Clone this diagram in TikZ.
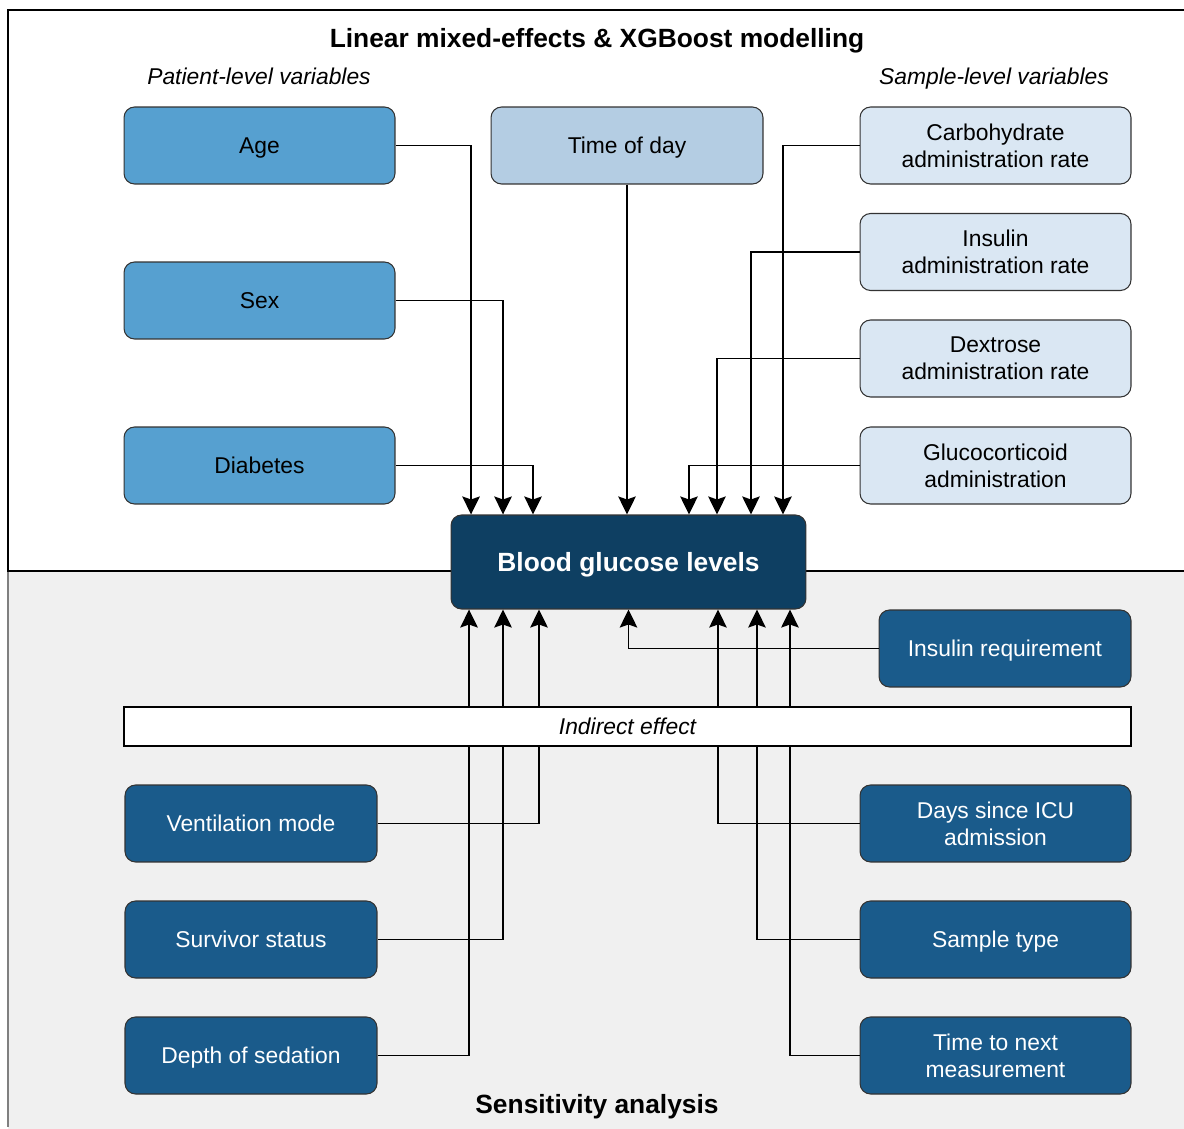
\documentclass[tikz,border=0pt]{standalone}
\usepackage{fontspec}
\setmainfont{Liberation Sans}
\usetikzlibrary{arrows.meta}
\definecolor{patblue}{HTML}{56A0D0}
\definecolor{timeblue}{HTML}{B4CDE3}
\definecolor{sampblue}{HTML}{DAE7F3}
\definecolor{bgldark}{HTML}{0E3F62}
\definecolor{sensblue}{HTML}{1A5B8B}
\definecolor{panelgray}{HTML}{F0F0F0}
\begin{document}
\begin{tikzpicture}[x=0.02cm,y=-0.02cm]
        \tikzset{box/.style={draw=black!80,line width=0.6pt,rounded corners=6pt,align=center,minimum width=5.42cm,minimum height=1.54cm,font=\fontsize{13}{15.5}\selectfont}};
        \tikzset{patbox/.style={box,fill=patblue},sampbox/.style={box,fill=sampblue},sensbox/.style={box,fill=sensblue,text=white}};
        \tikzset{arr/.style={line width=1.1pt,-{Stealth[length=3.6mm,width=3.5mm,inset=0.6mm]}}};
        \useasboundingbox (0,0) rectangle (1184,1129);
        % panels
        \fill[panelgray] (8,571) rectangle (1190,1129);
        \draw[black!50,line width=1pt] (8,571) -- (8,1127);
        \draw[line width=1.1pt] (1190,10) -- (8,10) -- (8,571) -- (1190,571);
        \node[font=\fontsize{15}{18}\selectfont\bfseries] (top) at (597,41) {Linear mixed-effects \& XGBoost modelling};
        \node[font=\fontsize{13}{15.5}\selectfont\itshape] (patlev) at (259,76) {Patient-level variables};
        \node[font=\fontsize{13}{15.5}\selectfont\itshape] (samplev) at (994,79) {Sample-level variables};
        \node[font=\fontsize{15}{18}\selectfont\bfseries] (bottom) at (597,1107) {Sensitivity analysis};
        % nodes
        \node[patbox,text depth=0pt] (age) at (259.5,145.5) {Age};
        \node[patbox] (sex) at (259.5,300.5) {Sex};
        \node[patbox] (diab) at (259.5,465.5) {Diabetes};
        \node[box,fill=timeblue,minimum width=5.44cm,text depth=0pt] (tod) at (627,145.5) {Time of day};
        \node[sampbox] (carb) at (995.5,145.5) {Carbohydrate\\administration rate};
        \node[sampbox] (insadm) at (995.5,252) {Insulin\\administration rate};
        \node[sampbox] (dex) at (995.5,358.5) {Dextrose\\administration rate};
        \node[sampbox] (gluco) at (995.5,465.5) {Glucocorticoid\\administration};
        \node[box,fill=bgldark,text=white,minimum width=7.1cm,minimum height=1.88cm,text depth=0pt,font=\fontsize{15}{18}\selectfont\bfseries] (bgl) at (628.5,562) {Blood glucose levels};
        \node[sensbox,minimum width=5.04cm,text depth=0pt] (insreq) at (1005,648.5) {Insulin requirement};
        \node[sensbox,minimum width=5.04cm] (vent) at (251,823.5) {Ventilation mode};
        \node[sensbox,minimum width=5.04cm] (surv) at (251,939.5) {Survivor status};
        \node[sensbox,minimum width=5.04cm,text depth=0pt] (depth) at (251,1055.5) {Depth of sedation};
        \node[sensbox] (days) at (995.5,823.5) {Days since ICU\\admission};
        \node[sensbox,text depth=0pt] (stype) at (995.5,939.5) {Sample type};
        \node[sensbox] (tnext) at (995.5,1055.5) {Time to next\\measurement};
        % modelled effects
        \draw[arr] (age.east) -| ([xshift=-3.15cm]bgl.north);
        \draw[arr] (sex.east) -| ([xshift=-2.51cm]bgl.north);
        \draw[arr] (diab.east) -| ([xshift=-1.91cm]bgl.north);
        \draw[arr] (tod.south) -- (bgl.north -| tod.south);
        \draw[arr] (carb.west) -| ([xshift=3.09cm]bgl.north);
        \draw[arr] (insadm.west) -| ([xshift=2.45cm]bgl.north);
        \draw[arr] (dex.west) -| ([xshift=1.77cm]bgl.north);
        \draw[arr] (gluco.west) -| ([xshift=1.21cm]bgl.north);
        % sensitivity effects
        \draw[arr] (insreq.west) -| (bgl.south);
        \draw[arr] (vent.east) -| ([xshift=-1.79cm]bgl.south);
        \draw[arr] (surv.east) -| ([xshift=-2.51cm]bgl.south);
        \draw[arr] (depth.east) -| ([xshift=-3.19cm]bgl.south);
        \draw[arr] (days.west) -| ([xshift=1.79cm]bgl.south);
        \draw[arr] (stype.west) -| ([xshift=2.57cm]bgl.south);
        \draw[arr] (tnext.west) -| ([xshift=3.23cm]bgl.south);
        \node[draw,line width=0.8pt,fill=white,minimum width=20.14cm,minimum height=0.78cm,font=\fontsize{13}{15.5}\selectfont\itshape] (indirect) at (627.5,726.5) {Indirect effect};
    \end{tikzpicture}
\end{document}
